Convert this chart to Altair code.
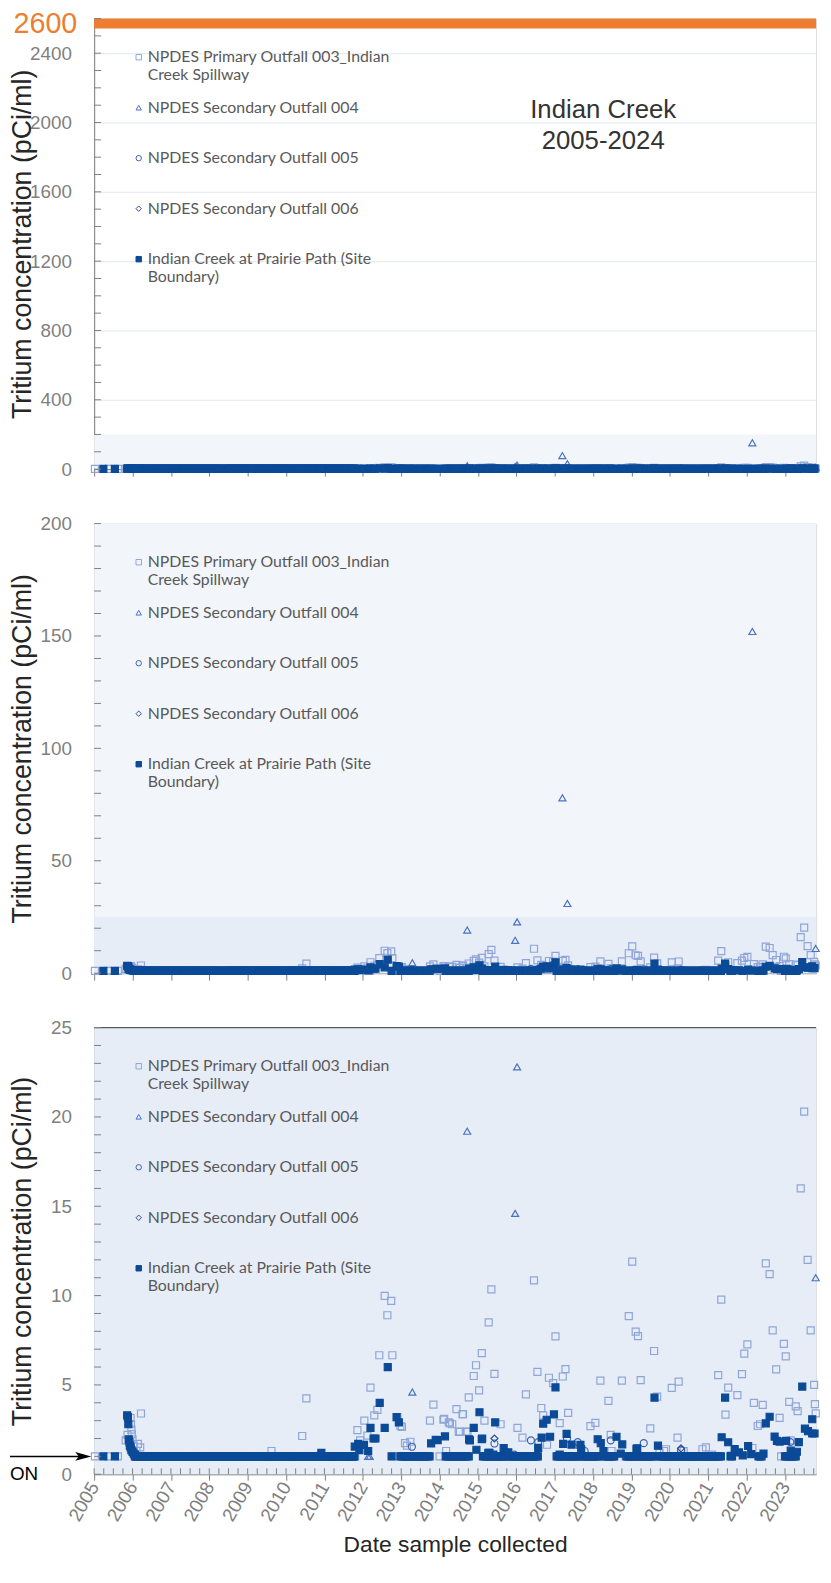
import altair as alt
import pandas as pd

# ---------------- series names ----------------
S003 = "NPDES Primary Outfall 003_Indian Creek Spillway"
S004 = "NPDES Secondary Outfall 004"
S005 = "NPDES Secondary Outfall 005"
S006 = "NPDES Secondary Outfall 006"
SIC = "Indian Creek at Prairie Path (Site Boundary)"
SERIES = [S003, S004, S005, S006, SIC]

ND = 1.0  # plotted level of non-detect results

# ---------------- NPDES Primary Outfall 003 (open light squares) ----------------
o003_year = [2005.02, 2005.37, 2005.62,
             2005.82, 2005.87, 2005.95, 2005.96, 2005.97, 2005.98, 2006.0, 2006.03, 2006.1, 2006.14, 2006.2, 2006.22,
             2008.62, 2008.9, 2009.15, 2009.28, 2009.45, 2009.62, 2009.8, 2010.0, 2010.2, 2010.35, 2010.42, 2010.53,
             2010.6, 2010.8, 2011.0, 2011.2, 2011.35, 2011.5, 2011.65, 2011.8,
             2011.86, 2011.93, 2012.04, 2012.12, 2012.2, 2012.3, 2012.38, 2012.43, 2012.57, 2012.64, 2012.74, 2012.77,
             2012.8, 2012.9, 2012.98, 2013.02, 2013.1, 2013.15, 2013.24, 2013.5,
             2013.75, 2013.84, 2014.0, 2014.1, 2014.12, 2014.17, 2014.24, 2014.27, 2014.33, 2014.44, 2014.5, 2014.53,
             2014.6, 2014.61, 2014.7, 2014.73, 2014.76,
             2014.89, 2014.95, 2015.03, 2015.1, 2015.17, 2015.28, 2015.35, 2015.43, 2015.59, 2015.65,
             2016.03, 2016.16, 2016.25, 2016.3, 2016.46, 2016.55, 2016.65, 2016.7, 2016.8, 2016.85, 2016.96,
             2017.02, 2017.13, 2017.21, 2017.28, 2017.35, 2017.45, 2017.93, 2018.06,
             2018.19, 2018.4, 2018.46, 2018.48, 2018.75, 2018.85, 2018.93, 2019.02,
             2019.11, 2019.17, 2019.24, 2019.49, 2019.59, 2019.67, 2019.73, 2019.85, 2019.9, 2019.95,
             2020.05, 2020.2, 2020.23, 2020.3, 2020.36, 2020.6, 2020.85, 2020.94, 2021.0, 2021.1,
             2021.26, 2021.34, 2021.45, 2021.52, 2021.76, 2021.88, 2021.94, 2022.02,
             2022.15, 2022.19, 2022.29, 2022.35, 2022.42, 2022.5, 2022.6, 2022.68, 2022.77, 2022.86, 2022.9, 2022.97,
             2023.02, 2023.11, 2023.15, 2023.2, 2023.28, 2023.33, 2023.41, 2023.5, 2023.59, 2023.67, 2023.76,
             2023.78, 2023.8]
o003_val = [1.0, 1.0, 1.0,
            1.9, 2.2, 3.15, 2.8, 2.5, 2.25, 1.95, 1.6, 1.3, 1.7, 1.5, 3.4,
            1.0, 1.0, 1.0, 1.0, 1.0, 1.3, 1.0, 1.0, 1.0, 1.0, 2.14, 4.25,
            1.0, 1.0, 1.0, 1.0, 1.0, 1.0, 1.0, 1.0,
            2.47, 1.9, 3.0, 2.16, 4.85, 3.3, 3.6, 6.66, 9.98, 8.9, 9.7, 6.66,
            1.0, 3.2, 2.7, 2.65, 1.74, 1.6, 1.82, 1.0,
            3.0, 3.9, 1.0, 3.05, 3.1, 1.3, 2.9, 2.85, 2.8, 3.65, 2.37, 2.39,
            3.37, 3.36, 2.39, 2.37, 4.3,
            5.5, 6.1, 4.7, 6.78, 3.0, 8.5, 10.35, 5.62, 2.8, 1.0,
            2.6, 2.05, 4.47, 1.0, 10.85, 5.73, 3.71, 3.3, 1.65, 5.4, 5.1,
            7.72, 2.86, 5.47, 5.88, 3.44, 1.0, 2.69, 2.88,
            5.24, 4.11, 2.2, 1.3, 5.24, 1.0, 8.85, 11.9,
            7.98, 7.73, 5.27, 2.57, 6.9, 4.35, 1.2, 1.3, 1.4, 1.0,
            4.84, 2.05, 5.18, 1.3, 1.3, 1.0, 1.4, 1.5, 1.0, 1.1,
            5.55, 9.77, 3.34, 4.85, 4.43, 5.6, 6.75, 7.27,
            1.47, 4.0, 2.7, 2.8, 3.88, 11.8, 11.2, 8.05, 5.87, 3.16, 1.0, 7.3,
            6.6, 4.05, 1.9, 1.1, 3.8, 3.53, 16.0, 20.3, 12.0, 8.05, 5.0,
            3.93, 3.41]

# ---------------- NPDES Secondary Outfall 004 (triangles) ----------------
o004_year = [2012.14, 2012.18, 2013.29, 2014.72, 2015.97, 2016.02, 2017.2, 2017.33, 2022.15, 2023.8]
o004_val = [1.0, 1.0, 4.6, 19.2, 14.6, 22.8, 78.0, 31.0, 152.0, 11.0]

# ---------------- NPDES Secondary Outfall 005 (circles) ----------------
o005_year = [2008.65, 2009.3, 2013.28, 2015.43, 2015.95, 2016.38, 2016.57, 2017.32, 2017.6, 2017.78,
             2018.46, 2019.32, 2020.29, 2023.14, 2023.2]
o005_val = [1.0, 1.0, 1.54, 1.72, 1.1, 1.9, 1.8, 2.0, 1.8, 1.3,
            1.9, 1.74, 1.35, 1.8, 1.2]

# ---------------- NPDES Secondary Outfall 006 (diamonds) ----------------
o006_year = [2015.43, 2020.29]
o006_val = [2.0, 1.45]

# ---------------- Indian Creek at Prairie Path (filled squares) ----------------
ic_year = [2005.24, 2005.54,
           2005.86, 2005.88, 2005.89, 2005.9, 2005.92, 2005.93, 2005.95, 2005.97, 2006.0, 2006.03, 2006.06,
           2010.92,
           2011.79, 2011.88, 2011.91, 2012.03, 2012.14, 2012.2, 2012.28, 2012.33, 2012.44, 2012.57, 2012.65,
           2012.75, 2012.88, 2012.94,
           2013.78, 2013.9, 2013.95, 2014.14,
           2014.77, 2014.79, 2014.89, 2014.96, 2015.04, 2015.1, 2015.11, 2015.27, 2015.3, 2015.4, 2015.45,
           2015.67, 2015.75, 2015.79,
           2016.57, 2016.66, 2016.7, 2016.79, 2016.88, 2016.98, 2017.02, 2017.13, 2017.22, 2017.31, 2017.44,
           2017.67, 2017.69,
           2018.12, 2018.2, 2018.27, 2018.61, 2018.72, 2018.76, 2019.13, 2019.15, 2019.6, 2019.69,
           2021.35, 2021.44, 2021.52, 2021.6, 2021.69, 2021.8, 2021.9, 2022.04, 2022.12, 2022.44, 2022.5,
           2022.6, 2022.73, 2022.79, 2022.86, 2023.03, 2023.15, 2023.31, 2023.36, 2023.45, 2023.52, 2023.6,
           2023.71, 2023.71, 2023.77]
ic_val = [1.0, 1.0,
          3.3, 3.2, 2.8, 1.95, 1.8, 1.6, 1.5, 1.35, 1.25, 1.15, 1.1,
          1.2,
          1.55, 1.7, 1.35, 1.64, 1.3, 2.6, 2.0, 2.0, 4.0, 2.6, 6.0,
          1.0, 3.2, 2.9,
          1.73, 1.93, 1.91, 2.12,
          1.95, 1.9, 2.6, 1.37, 3.47, 1.96, 2.0, 1.2, 1.2, 1.1, 2.9,
          1.46, 1.2, 1.22,
          1.48, 2.05, 2.83, 3.05, 2.1, 3.35, 4.86, 1.1, 1.7, 2.26, 1.66,
          1.64, 1.4,
          1.96, 1.74, 1.3, 2.1, 1.15, 1.67, 1.42, 1.45, 4.29, 1.6,
          2.07, 4.29, 1.79, 1.03, 1.41, 1.22, 1.06, 1.58, 1.13, 1.15, 2.85,
          3.22, 2.11, 1.87, 1.83, 1.87, 1.32, 1.26, 1.8, 4.91, 2.55, 2.41,
          2.28, 3.08, 2.28]
# periods in which every Indian Creek sample was a non-detect (start, end, sampling step in years)
ic_nd_runs = [(2006.06, 2008.30, 0.02), (2008.36, 2011.78, 0.02),
              (2012.98, 2013.75, 0.04), (2014.16, 2014.76, 0.04), (2015.13, 2015.69, 0.04),
              (2015.8, 2016.55, 0.04), (2017.05, 2017.15, 0.04), (2017.28, 2017.39, 0.04),
              (2017.5, 2017.62, 0.04), (2017.74, 2018.14, 0.04), (2018.31, 2018.57, 0.04),
              (2018.87, 2019.11, 0.04), (2019.17, 2019.57, 0.04), (2019.73, 2021.32, 0.04),
              (2021.58, 2021.62, 0.04), (2022.31, 2022.4, 0.04), (2023.0, 2023.3, 0.04)]

# ---------------- axis tick labels ----------------
X_YEARS = list(range(2005, 2024))
TOP_LABELS = [0, 400, 800, 1200, 1600, 2000, 2400]
TOP_LIMIT_LABEL = [2600]
MID_LABELS = [0, 50, 100, 150, 200]
BOT_LABELS = [0, 5, 10, 15, 20, 25]
TOP_MINOR = list(range(0, 2601, 100))
MID_MINOR = list(range(0, 201, 10))
BOT_MINOR = list(range(0, 26, 1))
X_QUARTERS = [2005 + q / 4 for q in range(0, 76)]

# ---------------- build table ----------------
rows = []
for name, ys, vs in [(S003, o003_year, o003_val), (S004, o004_year, o004_val),
                     (S005, o005_year, o005_val), (S006, o006_year, o006_val)]:
    rows += [{"series": name, "year": y, "value": v} for y, v in zip(ys, vs)]
ic_rows = []
for a, b, step in ic_nd_runs:
    n = int(round((b - a) / step))
    ic_rows += [{"series": SIC, "year": a + k * step, "value": ND} for k in range(n + 1)]
ic_rows += [{"series": SIC, "year": y, "value": v} for y, v in zip(ic_year, ic_val)]
df = pd.DataFrame(rows + ic_rows)

# ---------------- styling ----------------
W = 729
XMAX = 2023.81
GRAY = "#7f7f7f"
ORANGE = "#ed7d31"
LIGHT = "#f2f6fb"
DARK = "#e7edf7"
FONT = "Liberation Sans"

shape_scale = alt.Scale(domain=SERIES, range=["square", "triangle-up", "circle", "diamond", "square"])
stroke_scale = alt.Scale(domain=SERIES, range=["#8fa5d9", "#4a72c2", "#3b64ad", "#2f4f8f", "#0b4a97"])
fill_scale = alt.Scale(domain=SERIES, range=["transparent", "transparent", "transparent", "transparent", "#0b4a97"])

legend = alt.Legend(
    title=None, orient="none", legendX=37, legendY=31, padding=0,
    labelFont="Lato", labelFontSize=16, labelColor="#595959", labelLimit=400, labelOffset=1,
    symbolSize=30, symbolStrokeWidth=1, rowPadding=17,
    labelExpr="indexof(datum.label, '003_Indian') >= 0 ? ['NPDES Primary Outfall 003_Indian', 'Creek Spillway'] : "
              "indexof(datum.label, '(Site') >= 0 ? ['Indian Creek at Prairie Path (Site', 'Boundary)'] : "
              "[datum.label, ' ']",
)


def y_axis(values):
    return alt.Axis(values=values, format="d", title="Tritium concentration (pCi/ml)",
                    titleFont=FONT, titleFontSize=27, titleFontWeight="normal", titleColor="#262626",
                    titleX=-72, titleBaseline="middle",
                    labelFont=FONT, labelFontSize=19, labelColor=GRAY, labelPadding=23,
                    ticks=False, domainColor=GRAY, gridColor="#e3e8ef")


def x_axis(bottom=False):
    if bottom:
        return alt.Axis(values=X_YEARS, format="d", labelAngle=-60, labelFont=FONT, labelFontSize=19,
                        labelColor=GRAY, labelOverlap=False, tickSize=6, tickColor=GRAY, domainColor=GRAY,
                        grid=False, labelPadding=3,
                        title="Date sample collected", titleFont=FONT, titleFontSize=23,
                        titleFontWeight="normal", titleColor="#262626", titlePadding=9)
    return alt.Axis(values=X_YEARS, labels=False, tickSize=7, tickColor=GRAY, domainColor=GRAY,
                    grid=False, title=None)


def panel(ymax, labels, minor, height, bands, top=False, bottom=False):
    xs = alt.Scale(domain=[2005, XMAX], nice=False, zero=False)
    ys = alt.Scale(domain=[0, ymax], nice=False, zero=False)
    yax = y_axis(labels)
    xax = x_axis(bottom)
    layers = []
    for lo, hi, col in bands:
        layers.append(
            alt.Chart(pd.DataFrame({"lo": [lo], "hi": [hi]})).mark_rect(color=col).encode(
                x=alt.value(0), x2=alt.value(W),
                y=alt.Y("lo:Q", scale=ys, axis=yax), y2="hi:Q"))
    if top:
        # orange limit bar along the top edge (2600 pCi/ml)
        layers.append(alt.Chart(pd.DataFrame({"v": TOP_LIMIT_LABEL})).mark_rect(color=ORANGE).encode(
            x=alt.value(0), x2=alt.value(W), y=alt.value(0), y2=alt.value(10)))
        layers.append(alt.Chart(pd.DataFrame({"v": TOP_LIMIT_LABEL})).mark_text(
            align="right", baseline="top", font=FONT, fontSize=29, color=ORANGE, dy=-8).encode(
            y=alt.Y("v:Q", scale=ys, axis=yax), x=alt.value(-17), text=alt.Text("v:Q", format="d")))
    if bottom:
        layers.append(alt.Chart(pd.DataFrame({"v": [ymax]})).mark_rule(
            color="#595959", strokeWidth=1.2).encode(y=alt.Y("v:Q", scale=ys, axis=yax)))
    layers.append(
        alt.Chart(df).transform_filter(
            f"datum.value <= {ymax} && datum.year <= {XMAX}"
        ).mark_point(size=50, strokeWidth=1.2, opacity=1).encode(
            x=alt.X("year:Q", scale=xs, axis=xax),
            y=alt.Y("value:Q", scale=ys, axis=yax),
            shape=alt.Shape("series:N", scale=shape_scale, legend=legend),
            stroke=alt.Stroke("series:N", scale=stroke_scale, legend=legend),
            fill=alt.Fill("series:N", scale=fill_scale, legend=legend),
        ))
    layers.append(alt.Chart(pd.DataFrame({"t": minor})).mark_rule(color=GRAY, strokeWidth=1).encode(
        y=alt.Y("t:Q", scale=ys, axis=yax), x=alt.value(0), x2=alt.value(7)))
    if bottom:
        layers.append(alt.Chart(pd.DataFrame({"q": X_QUARTERS})).mark_rule(color=GRAY, strokeWidth=1).encode(
            x=alt.X("q:Q", scale=xs, axis=xax), y=alt.value(height), y2=alt.value(height - 6)))
        layers.append(alt.Chart(pd.DataFrame({"v": [ND]})).mark_rule(color="black", strokeWidth=1.5).encode(
            y=alt.Y("v:Q", scale=ys, axis=yax), x=alt.value(-85), x2=alt.value(-10)))
        layers.append(alt.Chart(pd.DataFrame({"v": [ND]})).mark_point(
            shape="M-1,-0.55L1,0L-1,0.55L-0.55,0Z", filled=True, color="black", size=260, opacity=1).encode(
            y=alt.Y("v:Q", scale=ys, axis=yax), x=alt.value(-11)))
        layers.append(alt.Chart(pd.DataFrame({"v": [0]})).mark_text(
            align="left", baseline="middle", font=FONT, fontSize=19, color="black").encode(
            y=alt.Y("v:Q", scale=ys, axis=yax), x=alt.value(-85), text=alt.value("ON")))
    if top:
        layers.append(alt.Chart(pd.DataFrame({"t": ["Indian Creek\n2005-2024"]})).mark_text(
            align="center", baseline="top", font=FONT, fontSize=26, color="#333333",
            lineBreak="\n", lineHeight=32).encode(
            x=alt.value(514), y=alt.value(79), text="t:N"))
    return alt.layer(*layers).properties(width=W, height=height)


top = panel(2600, TOP_LABELS, TOP_MINOR, 455, [(0, 200, LIGHT)], top=True)
mid = panel(200, MID_LABELS, MID_MINOR, 454, [(0, 200, LIGHT), (0, 25, DARK)])
bot = panel(25, BOT_LABELS, BOT_MINOR, 451, [(0, 25, DARK)], bottom=True)

chart = alt.vconcat(top, mid, bot, spacing=55, bounds="flush").resolve_scale(
    shape="independent", stroke="independent", fill="independent"
).resolve_legend(
    shape="independent", stroke="independent", fill="independent"
).properties(
    padding={"left": 0, "top": -6, "right": 0, "bottom": 0}
).configure_view(strokeWidth=0).configure(background="white")

chart.save("out.html", embed_options={"renderer": "svg", "actions": False})
